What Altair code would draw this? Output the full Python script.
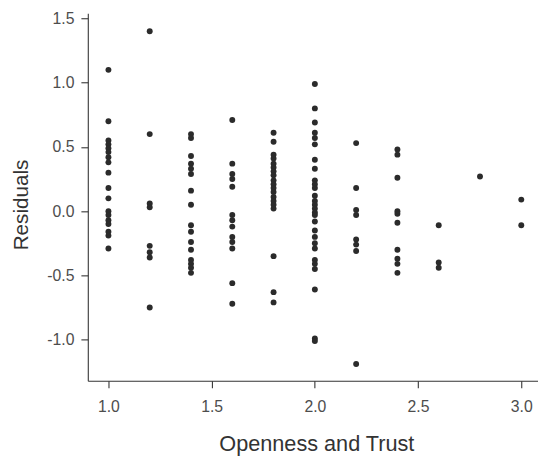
import altair as alt
import pandas as pd

# Residuals, grouped by "Openness and Trust" level
res_1_0 = [1.10, 0.70, 0.55, 0.52, 0.49, 0.46, 0.42, 0.38, 0.30, 0.18, 0.10,
           0.00, -0.03, -0.07, -0.10, -0.16, -0.19, -0.29]
res_1_2 = [1.40, 0.60, 0.06, 0.03, -0.27, -0.32, -0.36, -0.75]
res_1_4 = [0.60, 0.57, 0.43, 0.37, 0.33, 0.29, 0.16, 0.05, -0.11, -0.16,
           -0.24, -0.30, -0.38, -0.41, -0.44, -0.48]
res_1_6 = [0.71, 0.37, 0.29, 0.25, 0.19, -0.03, -0.07, -0.12, -0.20, -0.24,
           -0.29, -0.56, -0.72]
res_1_8 = [0.61, 0.54, 0.44, 0.41, 0.37, 0.34, 0.31, 0.28, 0.24, 0.21, 0.18,
           0.15, 0.11, 0.08, 0.05, 0.02, -0.35, -0.63, -0.71]
res_2_0 = [0.99, 0.80, 0.69, 0.61, 0.57, 0.52, 0.40, 0.33, 0.24, 0.21, 0.18,
           0.12, 0.08, 0.05, 0.02, -0.01, -0.03, -0.08, -0.15, -0.20, -0.25,
           -0.29, -0.38, -0.41, -0.45, -0.61, -0.99, -1.01]
res_2_2 = [0.53, 0.18, 0.01, -0.03, -0.22, -0.26, -0.31, -1.19]
res_2_4 = [0.48, 0.44, 0.26, 0.00, -0.02, -0.09, -0.30, -0.37, -0.41, -0.48]
res_2_6 = [-0.11, -0.40, -0.44]
res_2_8 = [0.27]
res_3_0 = [0.09, -0.11]

levels = [1.0, 1.2, 1.4, 1.6, 1.8, 2.0, 2.2, 2.4, 2.6, 2.8, 3.0]
groups = [res_1_0, res_1_2, res_1_4, res_1_6, res_1_8, res_2_0,
          res_2_2, res_2_4, res_2_6, res_2_8, res_3_0]

x_ticks = [1.0, 1.5, 2.0, 2.5, 3.0]
y_ticks = [-1.0, -0.5, 0.0, 0.5, 1.0, 1.5]

rows = []
for lv, g in zip(levels, groups):
    for r in g:
        rows.append({"openness": lv, "residual": r})
df = pd.DataFrame(rows)

font = "Liberation Sans"
label_expr = "datum.value < 0 ? '-' + format(-datum.value, '.1f') : format(datum.value, '.1f')"

chart = alt.Chart(df).mark_circle(
    size=36, color="#2b2b2b", opacity=1
).encode(
    x=alt.X("openness:Q",
            scale=alt.Scale(domain=[0.9, 3.081], nice=False, zero=False),
            axis=alt.Axis(values=x_ticks, labelExpr=label_expr, title="Openness and Trust",
                          titleX=232, titleY=71, titleBaseline="alphabetic",
                          titleFontSize=22, labelPadding=11)),
    y=alt.Y("residual:Q",
            scale=alt.Scale(domain=[-1.32, 1.54], nice=False, zero=False),
            axis=alt.Axis(values=y_ticks, labelExpr=label_expr, title="Residuals",
                          titleX=-61, titleY=194, titleBaseline="alphabetic",
                          titleFontSize=21, labelPadding=7)),
).properties(
    width=457, height=373,
    autosize=alt.AutoSizeParams(type="none"),
    padding={"left": 81, "top": 2, "right": 0, "bottom": 76},
).configure_view(
    stroke=None
).configure_axis(
    grid=False,
    domainColor="#333333", domainWidth=1.1,
    tickColor="#333333", tickWidth=1.1, tickSize=7,
    labelFont=font, labelFontSize=16, labelColor="#4d4d4d",
    titleFont=font, titleColor="#333333", titleFontWeight="normal",
)

chart.save("out.html", embed_options={"renderer": "svg", "actions": False})
